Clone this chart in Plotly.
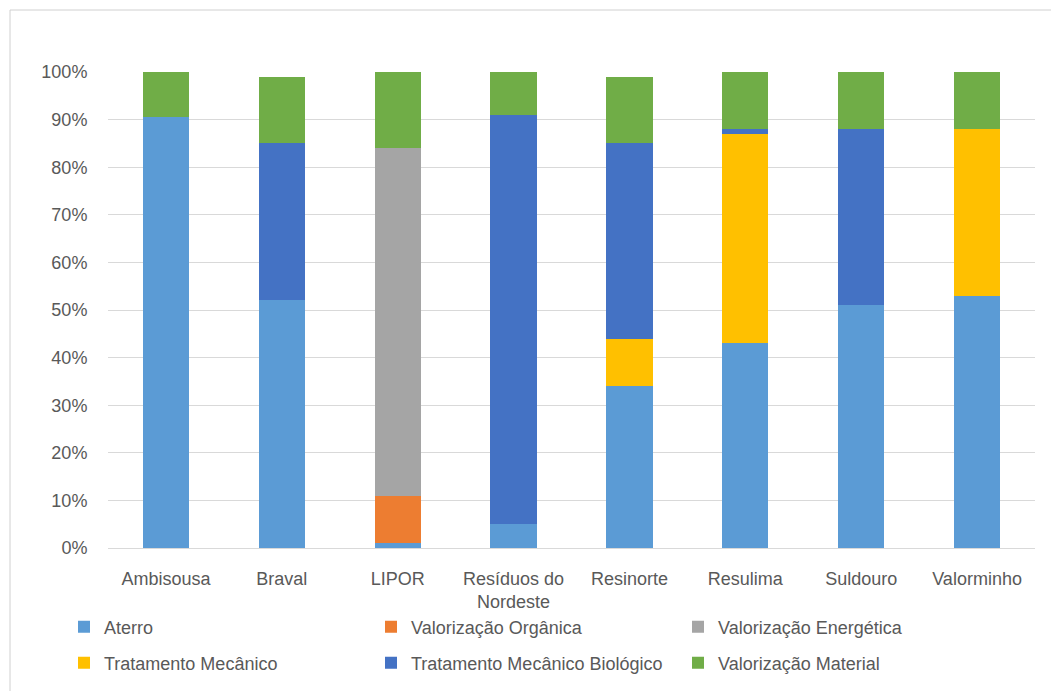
import plotly.graph_objects as go

categories = ["Ambisousa", "Braval", "LIPOR", "Resíduos do<br>Nordeste", "Resinorte",
              "Resulima", "Suldouro", "Valorminho"]

aterro = [90.6, 52, 1, 5, 34, 43, 51, 53]
valorizacao_organica = [0, 0, 10, 0, 0, 0, 0, 0]
valorizacao_energetica = [0, 0, 73, 0, 0, 0, 0, 0]
tratamento_mecanico = [0, 0, 0, 0, 10, 44, 0, 35]
tratamento_mecanico_biologico = [0, 33, 0, 86, 41, 1, 37, 0]
valorizacao_material = [9.4, 14, 16, 9, 14, 12, 12, 12]

series = [
    ("Aterro", aterro, "#5B9BD5", "legend"),
    ("Valorização Orgânica", valorizacao_organica, "#ED7D31", "legend"),
    ("Valorização Energética", valorizacao_energetica, "#A5A5A5", "legend"),
    ("Tratamento Mecânico", tratamento_mecanico, "#FFC000", "legend2"),
    ("Tratamento Mecânico Biológico", tratamento_mecanico_biologico, "#4472C4", "legend2"),
    ("Valorização Material", valorizacao_material, "#70AD47", "legend2"),
]

W, H = 1051, 691
L, R, T, B = 108, 1035, 72, 548

def px_x(p):
    return (p - L) / (R - L)

def px_y(p):
    return (B - p) / (B - T)

def cont_x(p):
    return p / W

def cont_y(p):
    return 1 - p / H

fig = go.Figure()
for name, vals, color, leg in series:
    fig.add_trace(go.Bar(
        x=categories, y=[v / 100 for v in vals], name=name,
        marker=dict(color=color, line=dict(width=0)),
        legend=leg,
    ))

font_color = "#595959"
fam = "Liberation Sans, Arial, sans-serif"

fig.update_layout(
    width=W, height=H,
    barmode="stack", bargap=0.6,
    margin=dict(l=L, r=W - R, t=T, b=H - B, pad=0),
    paper_bgcolor="white", plot_bgcolor="white",
    font=dict(family=fam, size=18, color=font_color),
    xaxis=dict(
        showgrid=False, showline=True, linecolor="#d9d9d9", linewidth=1,
        ticks="outside", ticklen=14, tickcolor="rgba(0,0,0,0)",
        tickfont=dict(size=18, color=font_color), automargin=False,
        tickangle=0,
    ),
    yaxis=dict(
        range=[0, 1], tickvals=[i / 10 for i in range(11)], tickformat=".0%",
        showgrid=True, gridcolor="#d9d9d9", gridwidth=1, zeroline=False,
        ticks="outside", ticklen=16, tickcolor="rgba(0,0,0,0)",
        tickfont=dict(size=18, color=font_color), automargin=False,
    ),
    legend=dict(
        orientation="h", xref="container", yref="container",
        x=cont_x(64), xanchor="left", y=cont_y(627), yanchor="middle",
        entrywidth=262, entrywidthmode="pixels",
        font=dict(size=18, color=font_color), bgcolor="rgba(0,0,0,0)",
        traceorder="normal",
    ),
    legend2=dict(
        orientation="h", xref="container", yref="container",
        x=cont_x(64), xanchor="left", y=cont_y(663), yanchor="middle",
        entrywidth=262, entrywidthmode="pixels",
        font=dict(size=18, color=font_color), bgcolor="rgba(0,0,0,0)",
        traceorder="normal",
    ),
    shapes=[dict(
        type="rect", xref="paper", yref="paper",
        x0=px_x(10), x1=px_x(1060), y0=px_y(700), y1=px_y(10),
        line=dict(color="#d0d0d0", width=1), fillcolor="rgba(0,0,0,0)", layer="below",
    )],
)

fig.write_html("out.html")
